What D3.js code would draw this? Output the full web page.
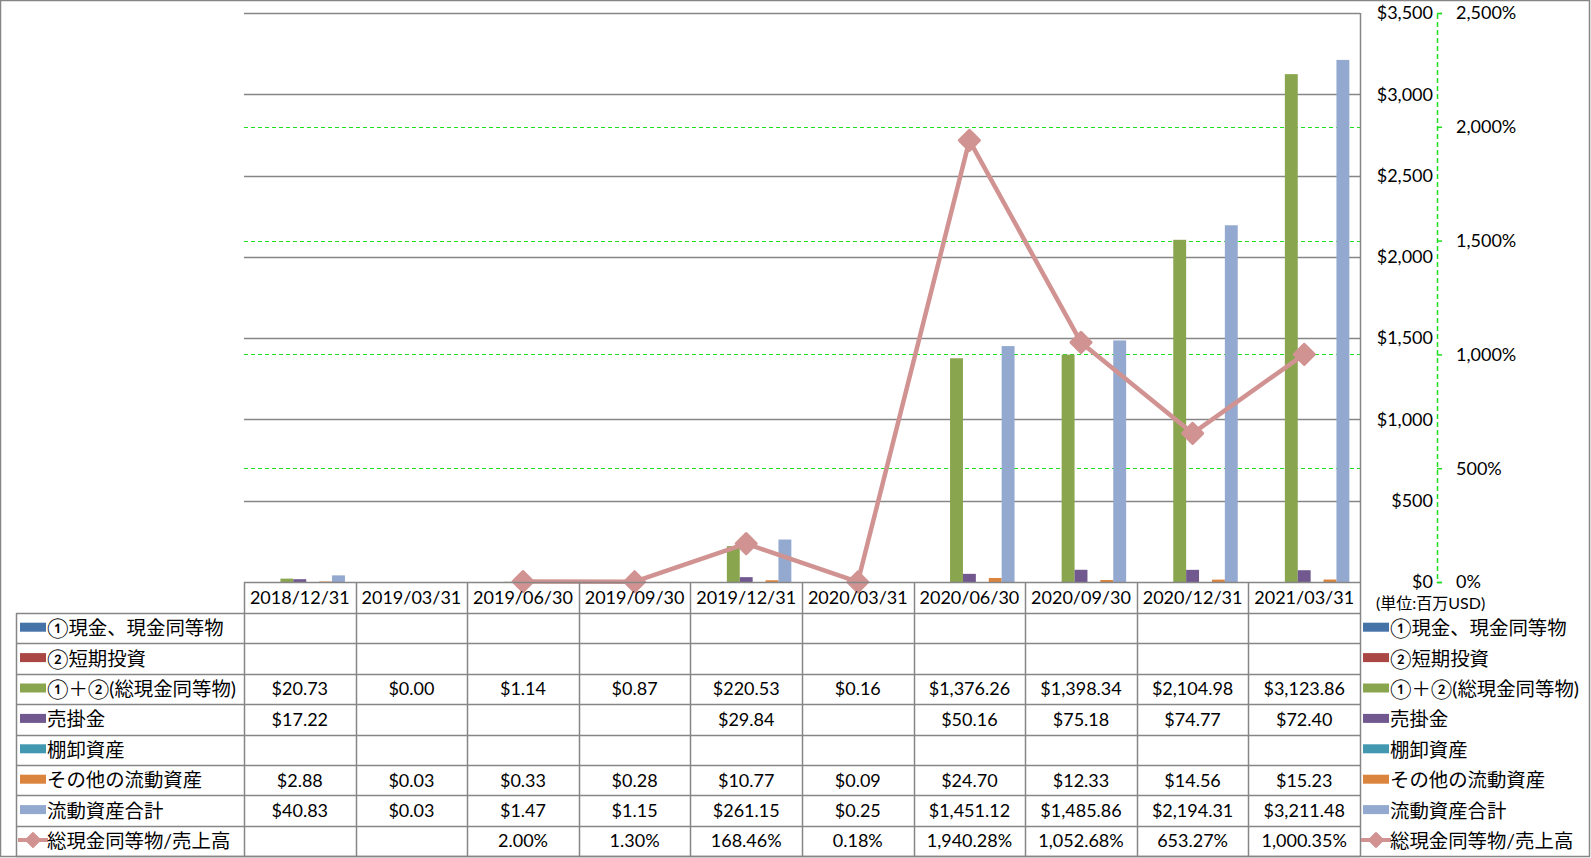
<!DOCTYPE html>
<html><head><meta charset="utf-8">
<script src="https://cdn.jsdelivr.net/npm/d3@7"></script>
<style>
html,body{margin:0;padding:0;background:#fff;}
svg{display:block;}
text{font-family:Lato,"Noto Sans CJK JP",sans-serif;fill:#000;}
</style></head>
<body>
<svg id="chart" width="1591" height="858"></svg>
<script>
const categories = ["2018/12/31","2019/03/31","2019/06/30","2019/09/30","2019/12/31","2020/03/31","2020/06/30","2020/09/30","2020/12/31","2021/03/31"];
const seriesNames = ["①現金、現金同等物","②短期投資","①＋②(総現金同等物)","売掛金","棚卸資産","その他の流動資産","流動資産合計"];
const seriesColors = ["#4572A7","#AA4643","#89A54E","#71588F","#4198AF","#DB843D","#93A9CF"];
const cashEq      = [null,null,null,null,null,null,null,null,null,null];
const shortInv    = [null,null,null,null,null,null,null,null,null,null];
const totalCash   = [20.73,0.00,1.14,0.87,220.53,0.16,1376.26,1398.34,2104.98,3123.86];
const receivables = [17.22,null,null,null,29.84,null,50.16,75.18,74.77,72.40];
const inventory   = [null,null,null,null,null,null,null,null,null,null];
const otherCA     = [2.88,0.03,0.33,0.28,10.77,0.09,24.70,12.33,14.56,15.23];
const totalCA     = [40.83,0.03,1.47,1.15,261.15,0.25,1451.12,1485.86,2194.31,3211.48];
const ratioName = "総現金同等物/売上高";
const ratioColor = "#D19392";
const ratio       = [null,null,2.00,1.30,168.46,0.18,1940.28,1052.68,653.27,1000.35];
const leftTicks  = [0,500,1000,1500,2000,2500,3000,3500];
const rightTicks = [0,500,1000,1500,2000,2500];
const unitLabel = "(単位:百万USD)";

const seriesValues = [cashEq,shortInv,totalCash,receivables,inventory,otherCA,totalCA];

const svg = d3.select("#chart");
const gridColor = "#868686";
const plotL = 244, plotR = 1360, plotT = 13, plotB = 582;
const axis2X = 1437;

// outer border
svg.append("rect").attr("x",0.5).attr("y",0.5).attr("width",1589).attr("height",856)
  .attr("fill","none").attr("stroke",gridColor).attr("stroke-width",1.5);

const x0 = d3.scaleBand().domain(categories).range([plotL,plotR]).padding(0);
const x1 = d3.scaleBand().domain(d3.range(seriesNames.length)).range([0,x0.bandwidth()])
  .paddingInner(0).paddingOuter(0.826);
const y = d3.scaleLinear().domain([0,3500]).range([plotB,plotT]);
const y2 = d3.scaleLinear().domain([0,2500]).range([plotB,plotT]);

// primary gridlines
svg.append("g").selectAll("line").data(leftTicks.filter(d=>d>0)).join("line")
  .attr("x1",plotL).attr("x2",plotR).attr("y1",d=>Math.round(y(d))+0.5).attr("y2",d=>Math.round(y(d))+0.5)
  .attr("stroke",gridColor).attr("stroke-width",1.5);
// secondary gridlines (green dashed)
svg.append("g").selectAll("line").data(rightTicks.filter(d=>d>0 && d<2500)).join("line")
  .attr("x1",plotL).attr("x2",plotR).attr("y1",d=>Math.round(y2(d))+0.5).attr("y2",d=>Math.round(y2(d))+0.5)
  .attr("stroke","#1EE01E").attr("stroke-width",1.2).attr("stroke-dasharray","4,3");

// bars
const barG = svg.append("g");
seriesValues.forEach((vals,si)=>{
  barG.append("g").selectAll("rect").data(categories.map((c,i)=>({c,v:vals[i]})).filter(d=>d.v!=null && d.v>0))
    .join("rect")
    .attr("x",d=>x0(d.c)+x1(si))
    .attr("width",x1.bandwidth())
    .attr("y",d=>y(d.v))
    .attr("height",d=>Math.max(0.6,plotB-y(d.v)))
    .attr("fill",seriesColors[si]);
});

// secondary axis (green dashed) on the right
const ax2 = d3.axisRight(y2).tickValues(rightTicks).tickSize(5).tickFormat("");
const gAx2 = svg.append("g").attr("transform",`translate(${axis2X},0)`).call(ax2);
gAx2.select(".domain").attr("stroke","#1EE01E").attr("stroke-width",1.5).attr("stroke-dasharray","5,3");
gAx2.selectAll(".tick line").attr("stroke","#1EE01E").attr("stroke-width",1.5);
svg.append("g").selectAll("text").data(rightTicks).join("text")
  .attr("x",1456).attr("y",d=>y2(d)).attr("dy","0.35em")
  .style("font-size","18px").text(d=>d3.format(",")(d)+"%");

// primary axis labels (right side)
svg.append("g").selectAll("text").data(leftTicks).join("text")
  .attr("x",1433).attr("y",d=>y(d)).attr("dy","0.35em").attr("text-anchor","end")
  .style("font-size","18px").text(d=>"$"+d3.format(",")(d));
svg.append("text").attr("x",1376).attr("y",603).attr("dy","0.35em")
  .style("font-size","16px").text(unitLabel);

// ratio line
const line = d3.line().defined(d=>d.v!=null).x(d=>x0(d.c)+x0.bandwidth()/2).y(d=>y2(d.v));
const ratioData = categories.map((c,i)=>({c,v:ratio[i]}));
svg.append("path").datum(ratioData.filter(d=>d.v!=null)).attr("d",line)
  .attr("fill","none").attr("stroke",ratioColor).attr("stroke-width",4.5).attr("stroke-linejoin","round");
const diamond = "M0,-10L10,0L0,10L-10,0Z";
svg.append("g").selectAll("path").data(ratioData.filter(d=>d.v!=null)).join("path")
  .attr("transform",d=>`translate(${x0(d.c)+x0.bandwidth()/2},${y2(d.v)})`)
  .attr("d",diamond).attr("fill",ratioColor).attr("stroke",ratioColor).attr("stroke-width",3).attr("stroke-linejoin","round");

// data table
const rowTop = 613, rowH = 30.4;
const rowNames = seriesNames.concat([ratioName]);
const nRows = rowNames.length;
const tableB = rowTop + nRows*rowH;
const tg = svg.append("g");
tg.append("line").attr("x1",plotL).attr("x2",plotR).attr("y1",plotB+0.5).attr("y2",plotB+0.5).attr("stroke",gridColor).attr("stroke-width",1.5);
d3.range(nRows+1).forEach(r=>{
  const yy = Math.round(rowTop + r*rowH)+0.5;
  tg.append("line").attr("x1",16).attr("x2",plotR).attr("y1",yy).attr("y2",yy).attr("stroke",gridColor).attr("stroke-width",1.5);
});
categories.concat(["__end"]).forEach((c,i)=>{
  const xx = Math.round(plotL + i*x0.bandwidth())+0.5;
  tg.append("line").attr("x1",xx).attr("x2",xx).attr("y1",plotB).attr("y2",tableB).attr("stroke",gridColor).attr("stroke-width",1.5);
});
tg.append("line").attr("x1",16.5).attr("x2",16.5).attr("y1",rowTop).attr("y2",tableB).attr("stroke",gridColor).attr("stroke-width",1.5);
tg.append("line").attr("x1",plotR+0.5).attr("x2",plotR+0.5).attr("y1",plotT).attr("y2",plotB).attr("stroke",gridColor).attr("stroke-width",1.5);

// header labels
tg.selectAll("text.cat").data(categories).join("text").attr("class","cat")
  .attr("x",d=>x0(d)+x0.bandwidth()/2).attr("y",(plotB+rowTop)/2).attr("dy","0.35em")
  .attr("text-anchor","middle").style("font-size","18px").text(d=>d);

// values
const fmtMoney = v=>"$"+d3.format(",.2f")(v);
const fmtPct = v=>d3.format(",.2f")(v)+"%";
const allRows = seriesValues.concat([ratio]);
allRows.forEach((vals,r)=>{
  const cy = rowTop + r*rowH + rowH/2;
  tg.append("g").selectAll("text").data(categories.map((c,i)=>({c,v:vals[i]})).filter(d=>d.v!=null)).join("text")
    .attr("x",d=>x0(d.c)+x0.bandwidth()/2).attr("y",cy).attr("dy","0.36em")
    .attr("text-anchor","middle").style("font-size","18px")
    .text(d=> r===nRows-1 ? fmtPct(d.v) : fmtMoney(d.v));
});

// legend keys (left in table and right side)
function legendKey(g, x, cy, r){
  if(r < seriesNames.length){
    g.append("rect").attr("x",x).attr("y",cy-4.5).attr("width",26).attr("height",9).attr("fill",seriesColors[r]);
  } else {
    g.append("line").attr("x1",x-2).attr("x2",x+28).attr("y1",cy).attr("y2",cy).attr("stroke",ratioColor).attr("stroke-width",4);
    g.append("path").attr("transform",`translate(${x+13},${cy})`).attr("d","M0,-7L7,0L0,7L-7,0Z")
      .attr("fill",ratioColor).attr("stroke",ratioColor).attr("stroke-width",2).attr("stroke-linejoin","round");
  }
}
rowNames.forEach((name,r)=>{
  const cy = rowTop + r*rowH + rowH/2 - 1;
  legendKey(tg, 20, cy, r);
  tg.append("text").attr("x",47).attr("y",cy+1).attr("dy","0.36em").style("font-size","19.4px").text(name);
  legendKey(tg, 1363, cy, r);
  tg.append("text").attr("x",1390).attr("y",cy+1).attr("dy","0.36em").style("font-size","19.4px").text(name);
});
</script>
</body></html>
